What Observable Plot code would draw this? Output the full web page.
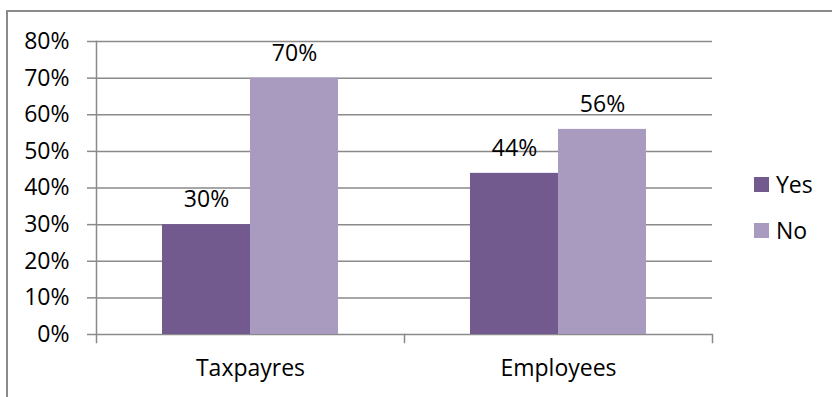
<!DOCTYPE html>
<html>
<head>
<meta charset="utf-8">
<script src="https://cdn.jsdelivr.net/npm/d3@7"></script>
<script src="https://cdn.jsdelivr.net/npm/@observablehq/plot@0.6"></script>
<style>
  html, body { margin: 0; padding: 0; background: #fff; }
  #chart { position: relative; width: 832px; height: 397px; overflow: hidden; font-family: "Open Sans", sans-serif; }
  #border { position: absolute; left: 6px; top: 10px; right: -4px; bottom: -4px; border-top: 2px solid #8a8a8a; border-left: 2px solid #8a8a8a; }
  #plot { position: absolute; left: 0; top: 0; }
  #legend { position: absolute; left: 754px; top: 169px; font-size: 23px; color: #000; }
  .item { display: flex; align-items: center; height: 30px; margin-bottom: 16px; }
  .swatch { width: 15px; height: 15px; margin-right: 7px; }
</style>
</head>
<body>
<div id="chart">
  <div id="border"></div>
  <div id="plot"></div>
  <div id="legend"></div>
</div>
<script>
// Survey answers by group
const categories = ["Taxpayres", "Employees"];
const series = ["Yes", "No"];
const yesValues = [0.30, 0.44];
const noValues = [0.70, 0.56];
const yTicks = [0, 0.1, 0.2, 0.3, 0.4, 0.5, 0.6, 0.7, 0.8];
const colors = ["#725a8f", "#a99bbf"];

const rows = categories.flatMap((category, i) => [
  {category, series: series[0], value: yesValues[i]},
  {category, series: series[1], value: noValues[i]}
]);

const width = 832, height = 397;
const marginTop = 41, marginBottom = 63, marginLeft = 96, marginRight = 120;
const plotHeight = height - marginTop - marginBottom;
const gridColor = "#8a8a8a";
const fontSize = 23;
const pct = d3.format(".0%");

const chart = Plot.plot({
  width, height, marginTop, marginBottom, marginLeft, marginRight,
  style: {fontFamily: "'Open Sans', sans-serif", fontSize: `${fontSize}px`, color: "#000", background: "transparent"},
  fx: {domain: categories, padding: 0, label: null},
  x: {domain: series, paddingInner: 0, paddingOuter: 0.75, axis: null},
  y: {domain: [0, 0.8], label: null},
  color: {domain: series, range: colors},
  marks: [
    Plot.ruleY(yTicks, {stroke: gridColor, strokeWidth: 1.5}),
    Plot.axisY({ticks: yTicks, tickFormat: pct, tickSize: 9, tickPadding: 18, stroke: gridColor, strokeWidth: 1.5, fill: "#000", fontSize, label: null}),
    Plot.frame({anchor: "left", facetAnchor: "left", insetBottom: -8, stroke: gridColor, strokeWidth: 1.5}),
    Plot.frame({anchor: "right", insetTop: plotHeight, insetBottom: -8, stroke: gridColor, strokeWidth: 1.5}),
    Plot.barY(rows, {fx: "category", x: "series", y: "value", fill: "series"}),
    Plot.text(rows, {fx: "category", x: "series", y: "value", text: d => pct(d.value), dy: -25, fontSize, fill: "#000"}),
    Plot.axisFx({anchor: "bottom", tickSize: 0, tickPadding: 25, fontSize, fill: "#000", label: null})
  ]
});
document.getElementById("plot").appendChild(chart);

// Legend
const legend = document.getElementById("legend");
series.forEach((s, i) => {
  const item = document.createElement("div");
  item.className = "item";
  item.innerHTML = `<span class="swatch" style="background:${colors[i]}"></span><span>${s}</span>`;
  legend.appendChild(item);
});
</script>
</body>
</html>
